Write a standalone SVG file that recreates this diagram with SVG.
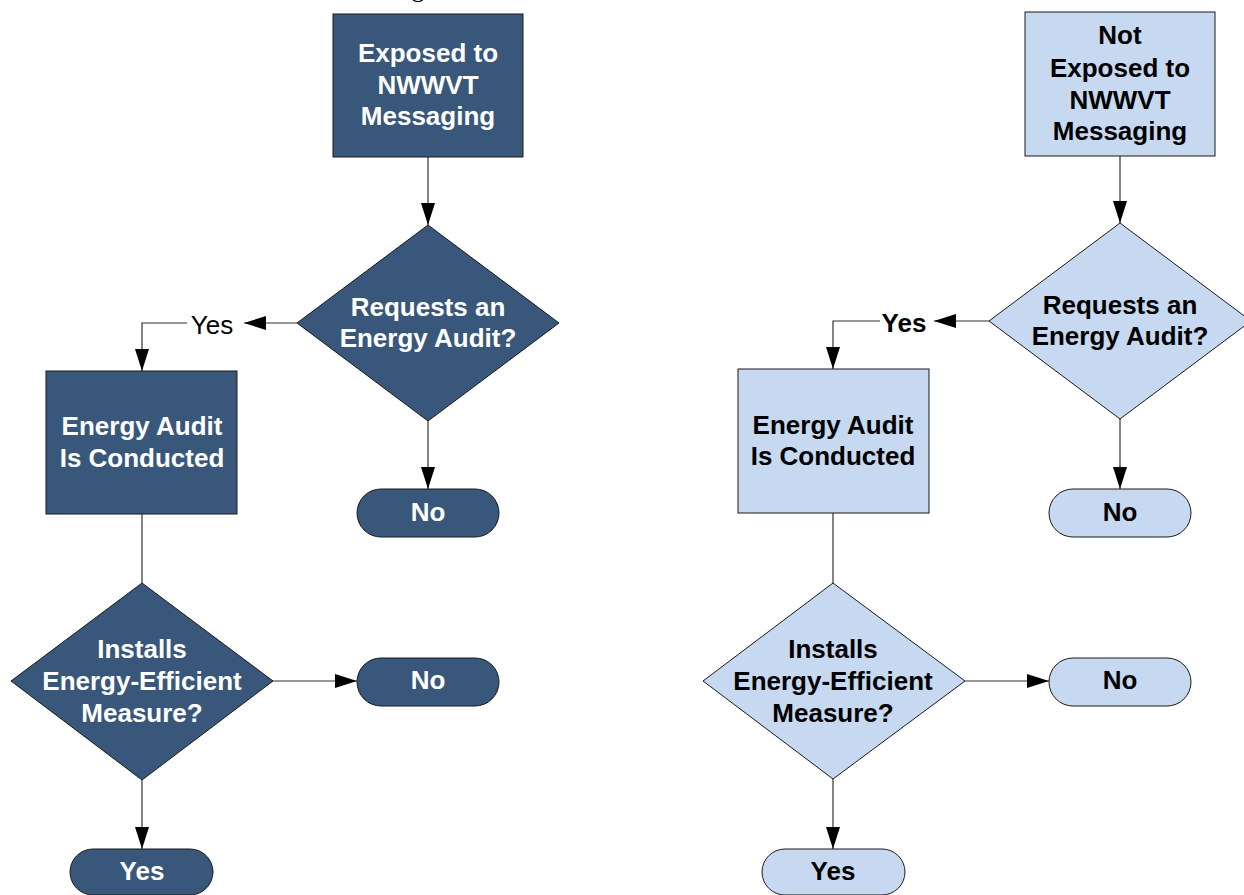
<svg xmlns="http://www.w3.org/2000/svg" width="1244" height="895" viewBox="0 0 1244 895">
<style>
.dark{fill:#38577B;stroke:#1a1a1a;stroke-width:1}
.light{fill:#C6D9F0;stroke:#1a1a1a;stroke-width:1}
.tw{font-family:"Liberation Sans",Arial,sans-serif;font-weight:bold;font-size:26px;fill:#fff;text-anchor:middle}
.tb{font-family:"Liberation Sans",Arial,sans-serif;font-weight:bold;font-size:26px;fill:#000;text-anchor:middle}
.lbl{font-family:"Liberation Sans",Arial,sans-serif;font-size:26px;fill:#000;text-anchor:middle}
.c{fill:none;stroke:#333;stroke-width:1.2}
</style>
<defs>
<marker id="ah" markerUnits="userSpaceOnUse" markerWidth="22" markerHeight="14" refX="22" refY="7" orient="auto">
<path d="M0,0 L22,7 L0,14 z" fill="#000"/>
</marker>
</defs>
<text x="418" y="-3" font-family="Liberation Serif,serif" font-size="26" fill="#000" text-anchor="middle">g</text>
<g id="connectors">
<path class="c" d="M428,157 V225" marker-end="url(#ah)"/>
<path class="c" d="M297,323 H244" marker-end="url(#ah)"/>
<path class="c" d="M187,323 H142 V371" marker-end="url(#ah)"/>
<path class="c" d="M428,421 V489" marker-end="url(#ah)"/>
<path class="c" d="M142,514 V583"/>
<path class="c" d="M273,681 H357" marker-end="url(#ah)"/>
<path class="c" d="M142,780 V849" marker-end="url(#ah)"/>
<path class="c" d="M1120,156 V223" marker-end="url(#ah)"/>
<path class="c" d="M989,321 H934" marker-end="url(#ah)"/>
<path class="c" d="M880,321 H833 V369" marker-end="url(#ah)"/>
<path class="c" d="M1120,419 V489" marker-end="url(#ah)"/>
<path class="c" d="M833,513 V583"/>
<path class="c" d="M965,681 H1049" marker-end="url(#ah)"/>
<path class="c" d="M833,779 V849" marker-end="url(#ah)"/>
<text class="lbl" x="212" y="334">Yes</text>
<text class="tb" x="904" y="332">Yes</text>
</g>
<g id="exposed">
<rect class="dark" x="333" y="14" width="190" height="143"/>
<text class="tw" x="428" y="62">Exposed to</text>
<text class="tw" x="428" y="94">NWWVT</text>
<text class="tw" x="428" y="125">Messaging</text>
</g>
<g id="requests-left">
<polygon class="dark" points="428,225 559,323 428,421 297,323"/>
<text class="tw" x="428" y="316">Requests an</text>
<text class="tw" x="428" y="347">Energy Audit?</text>
</g>
<g id="audit-left">
<rect class="dark" x="46" y="371" width="191" height="143"/>
<text class="tw" x="142" y="435">Energy Audit</text>
<text class="tw" x="142" y="467">Is Conducted</text>
</g>
<g id="no1-left">
<rect class="dark" x="357" y="489" width="142" height="48" rx="24"/>
<text class="tw" x="428" y="521">No</text>
</g>
<g id="installs-left">
<polygon class="dark" points="142,583 273,681 142,780 11,681"/>
<text class="tw" x="142" y="658">Installs</text>
<text class="tw" x="142" y="690">Energy-Efficient</text>
<text class="tw" x="142" y="722">Measure?</text>
</g>
<g id="no2-left">
<rect class="dark" x="357" y="658" width="142" height="48" rx="24"/>
<text class="tw" x="428" y="689">No</text>
</g>
<g id="yes-left">
<rect class="dark" x="70" y="849" width="143" height="46" rx="23"/>
<text class="tw" x="142" y="880">Yes</text>
</g>
<g id="not-exposed">
<rect class="light" x="1025" y="12" width="190" height="144"/>
<text class="tb" x="1120" y="44">Not</text>
<text class="tb" x="1120" y="77">Exposed to</text>
<text class="tb" x="1120" y="109">NWWVT</text>
<text class="tb" x="1120" y="140">Messaging</text>
</g>
<g id="requests-right">
<polygon class="light" points="1120,223 1251,321 1120,419 989,321"/>
<text class="tb" x="1120" y="314">Requests an</text>
<text class="tb" x="1120" y="345">Energy Audit?</text>
</g>
<g id="audit-right">
<rect class="light" x="738" y="369" width="191" height="144"/>
<text class="tb" x="833" y="434">Energy Audit</text>
<text class="tb" x="833" y="465">Is Conducted</text>
</g>
<g id="no1-right">
<rect class="light" x="1049" y="489" width="142" height="48" rx="24"/>
<text class="tb" x="1120" y="521">No</text>
</g>
<g id="installs-right">
<polygon class="light" points="833,583 965,681 833,779 703,681"/>
<text class="tb" x="833" y="658">Installs</text>
<text class="tb" x="833" y="690">Energy-Efficient</text>
<text class="tb" x="833" y="722">Measure?</text>
</g>
<g id="no2-right">
<rect class="light" x="1049" y="658" width="142" height="48" rx="24"/>
<text class="tb" x="1120" y="689">No</text>
</g>
<g id="yes-right">
<rect class="light" x="762" y="849" width="143" height="46" rx="23"/>
<text class="tb" x="833" y="880">Yes</text>
</g>
</svg>
